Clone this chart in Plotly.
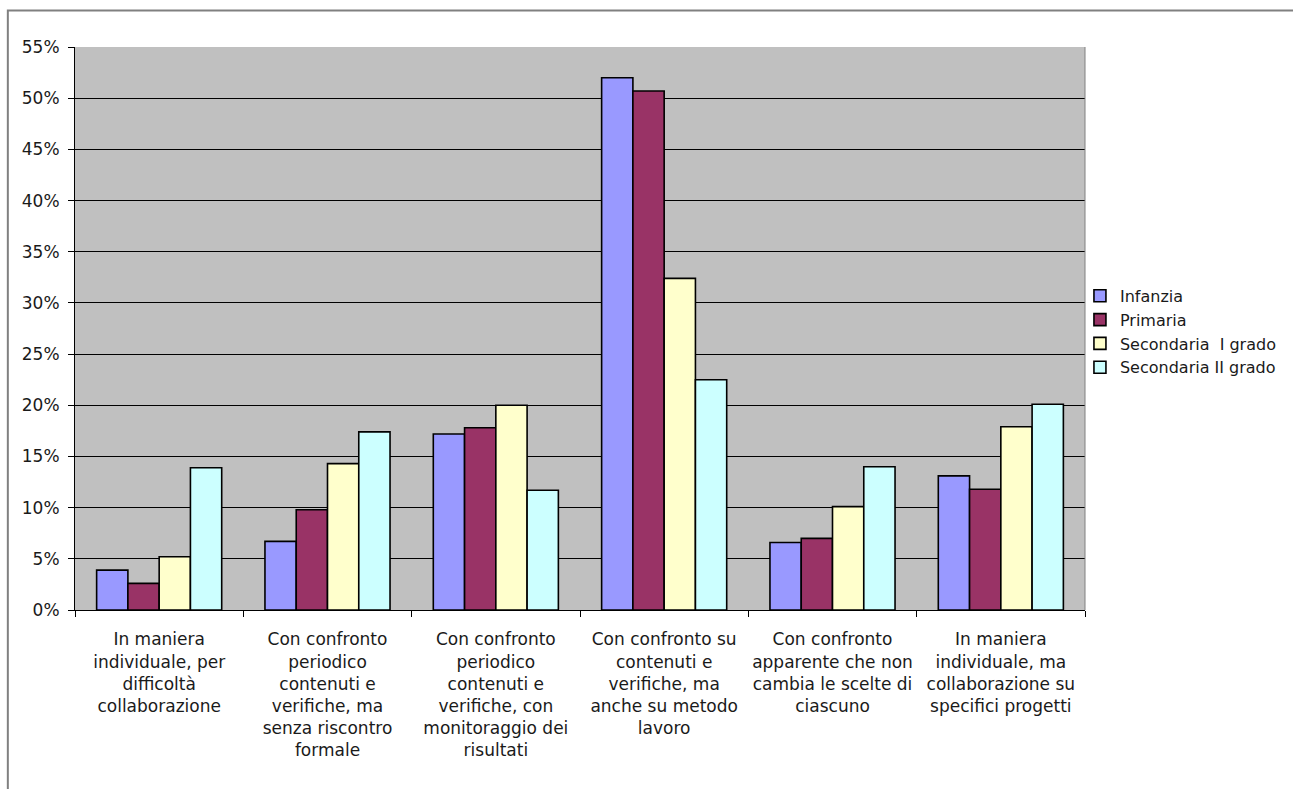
import plotly.graph_objects as go

# Category labels (wrapped as they appear under the axis)
categories = [
    "In maniera<br>individuale, per<br>difficoltà<br>collaborazione",
    "Con confronto<br>periodico<br>contenuti e<br>verifiche, ma<br>senza riscontro<br>formale",
    "Con confronto<br>periodico<br>contenuti e<br>verifiche, con<br>monitoraggio dei<br>risultati",
    "Con confronto su<br>contenuti e<br>verifiche, ma<br>anche su metodo<br>lavoro",
    "Con confronto<br>apparente che non<br>cambia le scelte di<br>ciascuno",
    "In maniera<br>individuale, ma<br>collaborazione su<br>specifici progetti",
]

series_names = ["Infanzia", "Primaria", "Secondaria  I grado", "Secondaria II grado"]

# Percentages per school level
infanzia = [3.9, 6.7, 17.2, 52.0, 6.6, 13.1]
primaria = [2.6, 9.8, 17.8, 50.7, 7.0, 11.8]
secondaria_1 = [5.2, 14.3, 20.0, 32.4, 10.1, 17.9]
secondaria_2 = [13.9, 17.4, 11.7, 22.5, 14.0, 20.1]

y_tick_values = [0, 5, 10, 15, 20, 25, 30, 35, 40, 45, 50, 55]
y_tick_labels = [f"{v}%" for v in y_tick_values]

colors = ["#9999FF", "#993366", "#FFFFCC", "#CCFFFF"]
values = [infanzia, primaria, secondaria_1, secondaria_2]

font_family = "DejaVu Sans, Verdana, sans-serif"
text_color = "#1a1a1a"

fig = go.Figure()
for name, vals, col in zip(series_names, values, colors):
    fig.add_trace(go.Bar(
        name=name,
        x=categories,
        y=vals,
        marker=dict(color=col, line=dict(color="#000000", width=1.6)),
    ))

fig.update_layout(
    width=1293,
    height=789,
    margin=dict(l=75, r=208, t=47, b=179),
    paper_bgcolor="#FFFFFF",
    plot_bgcolor="#C0C0C0",
    barmode="group",
    bargap=0.257,
    bargroupgap=0,
    font=dict(family=font_family, size=17, color=text_color),
    showlegend=True,
    legend=dict(
        x=0.995, xanchor="left",
        y=0.494, yanchor="middle",
        bgcolor="rgba(0,0,0,0)",
        font=dict(size=16, family=font_family, color=text_color),
        itemwidth=30,
        tracegroupgap=0,
    ),
    xaxis=dict(
        type="category",
        showgrid=False,
        showline=True,
        linecolor="#000000",
        linewidth=1,
        ticks="outside",
        tickson="boundaries",
        ticklen=6,
        tickcolor="#000000",
        tickangle=0,
        automargin=False,
        ticklabelstandoff=14,
        tickfont=dict(size=17, family=font_family, color=text_color),
    ),
    yaxis=dict(
        range=[0, 55],
        tickvals=y_tick_values,
        ticktext=y_tick_labels,
        showgrid=True,
        gridcolor="#000000",
        gridwidth=1,
        showline=True,
        linecolor="#000000",
        linewidth=1,
        ticks="outside",
        ticklen=6,
        tickcolor="#000000",
        ticklabelstandoff=5,
        automargin=False,
        zeroline=False,
        tickfont=dict(size=17, family=font_family, color=text_color),
    ),
    shapes=[
        # right edge of the plot area
        dict(type="line", xref="paper", yref="paper", x0=1, x1=1, y0=0, y1=1,
             line=dict(color="#808080", width=1)),
        # frame around the whole chart
        dict(type="rect", xref="paper", yref="paper",
             x0=-0.0665, x1=1.22, y0=-0.34, y1=1.065,
             line=dict(color="#808080", width=2), layer="below"),
    ],
)

fig.write_html("out.html")
